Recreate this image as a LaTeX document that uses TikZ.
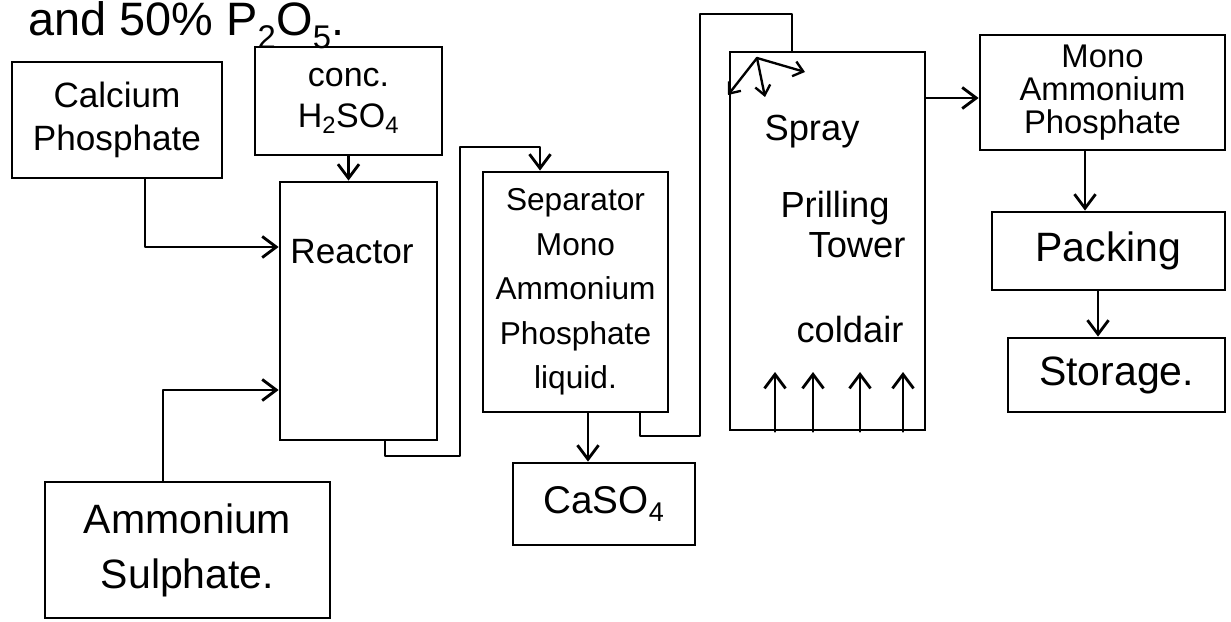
\documentclass[tikz,border=0pt]{standalone}
\usepackage{fontspec}
\setmainfont{Liberation Sans}
\usetikzlibrary{arrows.meta}
\newcommand\hwsize[2]{\fontsize{#1}{#2}\selectfont}
\begin{document}
\begin{tikzpicture}[x=0.03cm,y=-0.03cm,
  box/.style={draw, line width=2.4pt, inner sep=0pt, align=center},
  txt/.style={inner sep=0pt, align=center},
  conn/.style={line width=2.4pt, line join=round, line cap=round},
  arr/.style={conn, -{Straight Barb[length=12pt,width=18pt]}},
  sarr/.style={line width=2pt, line cap=round, -{Straight Barb[length=8pt,width=13pt]}},
]
\useasboundingbox (0,0) rectangle (1231,622);
\clip (0,0) rectangle (1231,622);
\fill[white] (0,0) rectangle (1231,622);

% heading fragment (cut at top)
\node[txt, anchor=base west, font={\hwsize{40}{44}}] (head) at (28,36) {and 50\% P\textsubscript{2}O\textsubscript{5}.};

% boxes
\node[box, minimum width=6.3cm, minimum height=3.48cm, font={\hwsize{30}{36}}] (cp) at (117,120) {Calcium\\Phosphate};
\node[box, minimum width=5.61cm, minimum height=3.24cm, font={\hwsize{29}{35}}] (acid) at (348.5,101) {conc.\\H\textsubscript{2}SO\textsubscript{4}};
\node[box, minimum width=4.71cm, minimum height=7.74cm] (reactor) at (358.5,311) {};
\node[txt, font={\hwsize{30}{34}}] (reactorT) at (352,252) {Reactor};
\node[box, minimum width=8.55cm, minimum height=4.08cm, font={\hwsize{35}{47}}] (as) at (187.5,550) {Ammonium\\Sulphate.};
\node[box, minimum width=5.55cm, minimum height=7.2cm, font={\hwsize{27}{38}}] (sep) at (575.5,292) {Separator\\Mono\\Ammonium\\Phosphate\\liquid.};
\node[box, minimum width=5.46cm, minimum height=2.46cm, font={\hwsize{33}{38}}] (caso) at (604,504) {CaSO\textsubscript{4}};
\node[box, minimum width=5.85cm, minimum height=11.34cm] (tower) at (827.5,241) {};
\node[txt, font={\hwsize{31}{34}}] (sprayT) at (812,132) {Spray};
\node[txt, font={\hwsize{31}{34}}] (prillT) at (835,208) {Prilling};
\node[txt, font={\hwsize{31}{34}}] (towerT) at (857,245) {Tower};
\node[txt, font={\hwsize{31}{34}}] (coldT) at (850,330) {coldair};
\node[box, minimum width=7.35cm, minimum height=3.45cm, font={\hwsize{28}{28}}] (map) at (1102.5,92.5) {Mono\\Ammonium\\Phosphate};
\node[box, minimum width=6.99cm, minimum height=2.34cm, font={\hwsize{35}{40}}] (pack) at (1108.5,251) {Packing};
\node[box, minimum width=6.51cm, minimum height=2.22cm, font={\hwsize{35}{40}}] (stor) at (1116.5,375) {Storage.};

% waypoints
\coordinate (k1) at (145,247);
\coordinate (k2) at (163,390);
\coordinate (c1) at (385,456);
\coordinate (c2) at (460,456);
\coordinate (c3) at (460,147);
\coordinate (c4) at (540,147);
\coordinate (k3) at (588,440);
\coordinate (d1) at (640,436);
\coordinate (d2) at (700,436);
\coordinate (d3) at (700,14);
\coordinate (d4) at (792,14);
\coordinate (sp) at (757,58);
\coordinate (sa) at (728,95);
\coordinate (sb) at (765,97);
\coordinate (sc) at (805,72);
\coordinate (u1) at (775,372);
\coordinate (u2) at (813,372);
\coordinate (u3) at (860,372);
\coordinate (u4) at (903,372);
\coordinate (k4) at (950,98);
\coordinate (k5) at (1085,180);
\coordinate (k6) at (1098,315);

% connectors
\draw[arr] (cp.south -| k1) -- (k1) -- (k1 -| reactor.west);
\draw[arr] (acid.south) -- (acid.south |- reactor.north);
\draw[arr] (as.north -| k2) -- (k2) -- (k2 -| reactor.west);
\draw[arr] (reactor.south -| c1) -- (c1) -- (c2) -- (c3) -- (c4) -- (c4 |- sep.north);
\draw[arr] (sep.south -| k3) -- (k3 |- caso.north);
\draw[conn] (sep.south -| d1) -- (d1) -- (d2) -- (d3) -- (d4) -- (d4 |- tower.north);
\draw[sarr] (sp) -- (sa);
\draw[sarr] (sp) -- (sb);
\draw[sarr] (sp) -- (sc);
\draw[arr] (u1 |- tower.south) -- (u1);
\draw[arr] (u2 |- tower.south) -- (u2);
\draw[arr] (u3 |- tower.south) -- (u3);
\draw[arr] (u4 |- tower.south) -- (u4);
\draw[arr] (k4 -| tower.east) -- (k4 -| map.west);
\draw[arr] (map.south -| k5) -- (k5 |- pack.north);
\draw[arr] (pack.south -| k6) -- (k6 |- stor.north);
\end{tikzpicture}
\end{document}
